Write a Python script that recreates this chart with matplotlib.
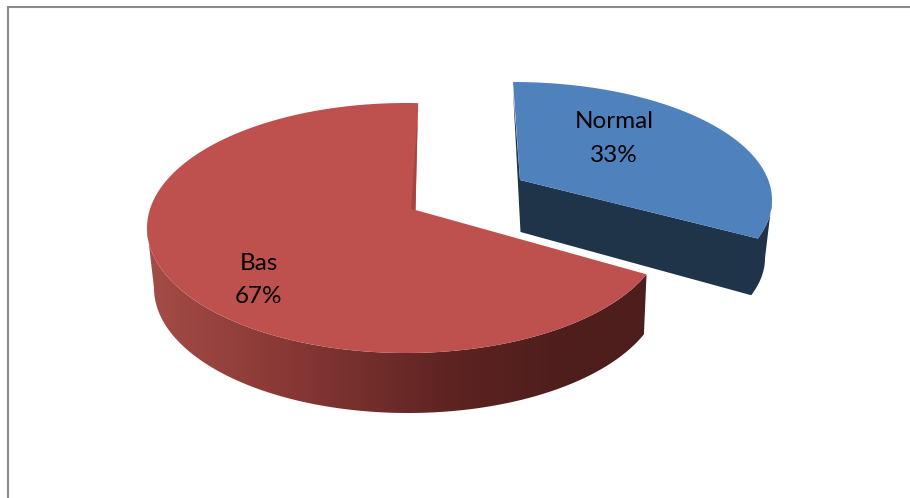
import numpy as np
import matplotlib
matplotlib.use("Agg")
import matplotlib.pyplot as plt
from matplotlib.colors import LinearSegmentedColormap
from matplotlib.patches import Polygon

plt.rcParams['font.family'] = ['Lato', 'DejaVu Sans']

names = ["Normal", "Bas"]
values = [33, 67]

# pie drawn in pixel space, y going down
W, H = 910, 498
PERSP = 0.83   # squeezes the far half of the disc


def rim_angle(theta, start):
    # pie angle (deg, clockwise from the back) to ellipse angle
    half = np.radians(theta) / 2
    return start + np.degrees(2 * np.arctan2(PERSP * np.sin(half), np.cos(half)))


def rim(ell, t0, t1, n=200):
    t = np.radians(np.linspace(t0, t1, n))
    cx, cy, rx, ry = ell
    return np.column_stack([cx + rx * np.sin(t), cy - ry * np.cos(t)])


fig = plt.figure(figsize=(W / 100, H / 100), dpi=100)
ax = fig.add_axes([0, 0, 1, 1])
ax.set_xlim(0, W)
ax.set_ylim(H, 0)
ax.axis("off")

# chart frame, only top and left fall inside the canvas
ax.plot([7.6, 7.6, W], [H, 6.8, 6.8], color="#8a8a8a", lw=1.5, solid_joinstyle="miter")

angles = np.cumsum([0] + values) / sum(values) * 360

# ---- Bas slice
top = (406, 228, 259, 125)
bottom = (408, 288, 254, 125)
apex = np.array([415.5, 210])
t0 = 2.7
t_start = rim_angle(angles[1], t0)
t_end = rim_angle(angles[2], t0)

side = np.vstack([rim(top, t_start, 270), rim(bottom, 270, t_start)])
side_patch = Polygon(side, closed=True, fc="none", ec="none")
ax.add_patch(side_patch)
shade = LinearSegmentedColormap.from_list(
    "side", [(0, "#a44c48"), (0.25, "#8c3a37"), (0.62, "#5c2321"), (0.85, "#4d1e1c"), (1, "#4d1e1c")])
img = ax.imshow(np.linspace(0, 1, 256)[None, :], extent=(147, 648, H, 0), cmap=shade,
                aspect="auto", zorder=2)
img.set_clip_path(side_patch)
ax.set_xlim(0, W)
ax.set_ylim(H, 0)

ax.add_patch(Polygon(np.vstack([apex, rim(top, t_start, t_end)]), closed=True,
                     fc="#be504d", ec="none", zorder=3))
# inner wall just visible along the back edge
ax.add_patch(Polygon(apex + np.array([[2, -92], [0, 0], [-4.5, -1]]), closed=True,
                     fc="#a34643", ec="none", zorder=4))
ax.text(259, 280, f"{names[1]}\n{values[1]}%", ha="center", va="center",
        fontsize=17.5, linespacing=1.76, color="black", zorder=6)

# ---- Normal slice, pulled away from the centre
top = (513, 200, 259, 118)
bottom = (513, 258, 252, 114)
apex = np.array([520, 180])
apex_low = np.array([520.5, 232])
t_start = rim_angle(angles[0], 0)
t_end = rim_angle(angles[1], 0)
dark = "#1f3349"

# walls as one outline so no seam shows between them
wall = np.vstack([rim(top, t_start, t_start, 1) + [0, 8], apex_low,
                  rim(bottom, t_end, 90), rim(top, 90, t_end), apex])
ax.add_patch(Polygon(wall, closed=True, fc=dark, ec="none", zorder=3))
ax.add_patch(Polygon(np.vstack([apex, rim(top, t_start, t_end)]), closed=True,
                     fc="#4f81bd", ec="none", zorder=4))
ax.text(614, 138.5, f"{names[0]}\n{values[0]}%", ha="center", va="center",
        fontsize=17.5, linespacing=1.76, color="black", zorder=6)

plt.savefig("out.png", dpi=100)
